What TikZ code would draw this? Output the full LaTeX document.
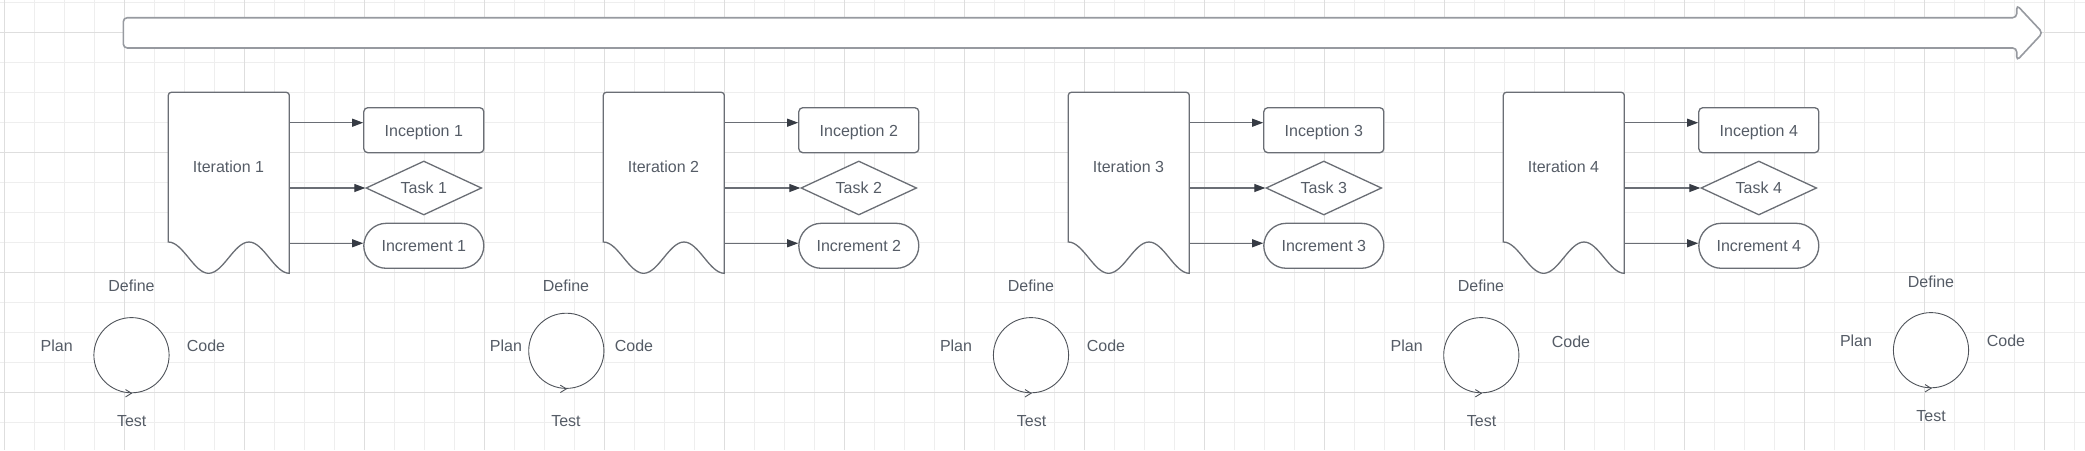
\documentclass[tikz,border=0pt]{standalone}
\usepackage{fontspec}
\setmainfont{Liberation Sans}
\usetikzlibrary{shapes.geometric,arrows.meta}
\definecolor{gridminor}{HTML}{EEEEEE}
\definecolor{gridmajor}{HTML}{DEDEDE}
\definecolor{linec}{HTML}{6A6E75}
\definecolor{arrowc}{HTML}{979AA0}
\definecolor{textc}{HTML}{555C66}
\definecolor{headc}{HTML}{363B44}
\definecolor{cycc}{HTML}{4F535A}
\tikzset{
  txt/.style={font=\fontsize{16}{19}\selectfont, text=textc, text height=11.6pt, text depth=0pt, inner sep=0pt},
  shp/.style={draw=linec, line width=1.3pt, fill=white},
  incep/.style={shp, txt, rectangle, rounded corners=4pt, minimum width=120pt, minimum height=45pt},
  taskd/.style={shp, txt, diamond, shape aspect=2.14, minimum width=115.7pt, minimum height=54pt},
  incr/.style={shp, txt, rectangle, rounded corners=22.5pt, minimum width=120pt, minimum height=45pt},
  docframe/.style={rectangle, inner sep=0pt, outer sep=0pt, minimum width=121pt, minimum height=181pt},
  docline/.style={draw=linec, line width=1.3pt, fill=white},
  conn/.style={draw=linec, line width=1.2pt, -{Triangle[length=11pt,width=8pt,color=headc]}},
  cyc/.style={circle, draw=cycc, line width=0.9pt, fill=white, minimum size=75.2pt, inner sep=0pt},
  chev/.style={draw=cycc, line width=0.9pt},
  bigarr/.style={draw=arrowc, line width=1.6pt, fill=white},
  gmin/.style={draw=gridminor, line width=1pt},
  gmaj/.style={draw=gridmajor, line width=1pt}
}
\begin{document}
\begin{tikzpicture}[x=1pt,y=-1pt]
\useasboundingbox (0,0) rectangle (2085,450);
\fill[white] (0,0) rectangle (2085,450);
% grid
\foreach \k in {0,...,69} \draw[gmin] (4.3+30*\k,0) -- (4.3+30*\k,450);
\foreach \k in {0,...,14} \draw[gmin] (0,2.3+30*\k) -- (2085,2.3+30*\k);
\foreach \k in {0,...,17} \draw[gmaj] (4.3+120*\k,0) -- (4.3+120*\k,450);
\foreach \k in {0,...,3} \draw[gmaj] (0,32.3+120*\k) -- (2085,32.3+120*\k);
% big arrow
\filldraw[bigarr] (123.3,33) [rounded corners=4pt] -- (123.3,17.7) -- (2016.7,17.7) -- (2016.7,5) -- (2042.7,32.8) -- (2016.7,60.7) -- (2016.7,48) -- (123.3,48) -- cycle;
% iteration groups
\foreach \i/\o in {1/0,2/435,3/900,4/1335}{
  \filldraw[docline] (168.3+\o,242) [rounded corners=3pt] -- (168.3+\o,92.3) -- (289.3+\o,92.3) [sharp corners] -- (289.3+\o,273.3)
     cos (269.1+\o,257.6) sin (249+\o,242) cos (228.8+\o,257.6) sin (208.6+\o,273.3) cos (188.5+\o,257.6) sin (168.3+\o,242) -- cycle;
  \node[docframe] (doc\i) at (228.8+\o,182.8) {};
  \node[txt] (itl\i) at (228.5+\o,167) {Iteration \i};
  \node[incep] (inc\i) at (423.8+\o,130.2) {Inception \i};
  \node[taskd] (tsk\i) at (423.8+\o,188) {Task \i};
  \node[incr] (icr\i) at (423.8+\o,245.8) {Increment \i};
  \coordinate (ia\i) at ([yshift=7.5pt]inc\i.west);
  \coordinate (ra\i) at ([yshift=2.5pt]icr\i.west);
  \draw[conn] (ia\i -| doc\i.east) -- (ia\i);
  \draw[conn] (tsk\i.west -| doc\i.east) -- (tsk\i.west);
  \draw[conn] (ra\i -| doc\i.east) -- (ra\i);
}
% cycles
\foreach \i/\cx/\cy/\dx/\dy/\px/\py/\qx/\qy/\tx/\ty in {
  1/131.5/355.2/131.5/286/56.7/346/206/346/131.7/421,
  2/566.3/350.8/566/286/506/346/634/346/566/421,
  3/1031/355.2/1031/286/956/346/1106/346/1031.5/421,
  4/1481.3/355.2/1481/286/1406.7/346/1571/341.7/1481.5/421,
  5/1931/350.2/1931/281.7/1856/341/2006/341/1931/415.7}{
  \node[cyc] (cyc\i) at (\cx,\cy) {};
  \draw[chev] ([shift={(-6pt,3.7pt)}]cyc\i.south) -- (cyc\i.south) -- ([shift={(-6pt,-3.7pt)}]cyc\i.south);
  \node[txt] (def\i) at (\dx,\dy) {Define};
  \node[txt] (pln\i) at (\px,\py) {Plan};
  \node[txt] (cod\i) at (\qx,\qy) {Code};
  \node[txt] (tst\i) at (\tx,\ty) {Test};
}
\end{tikzpicture}
\end{document}
